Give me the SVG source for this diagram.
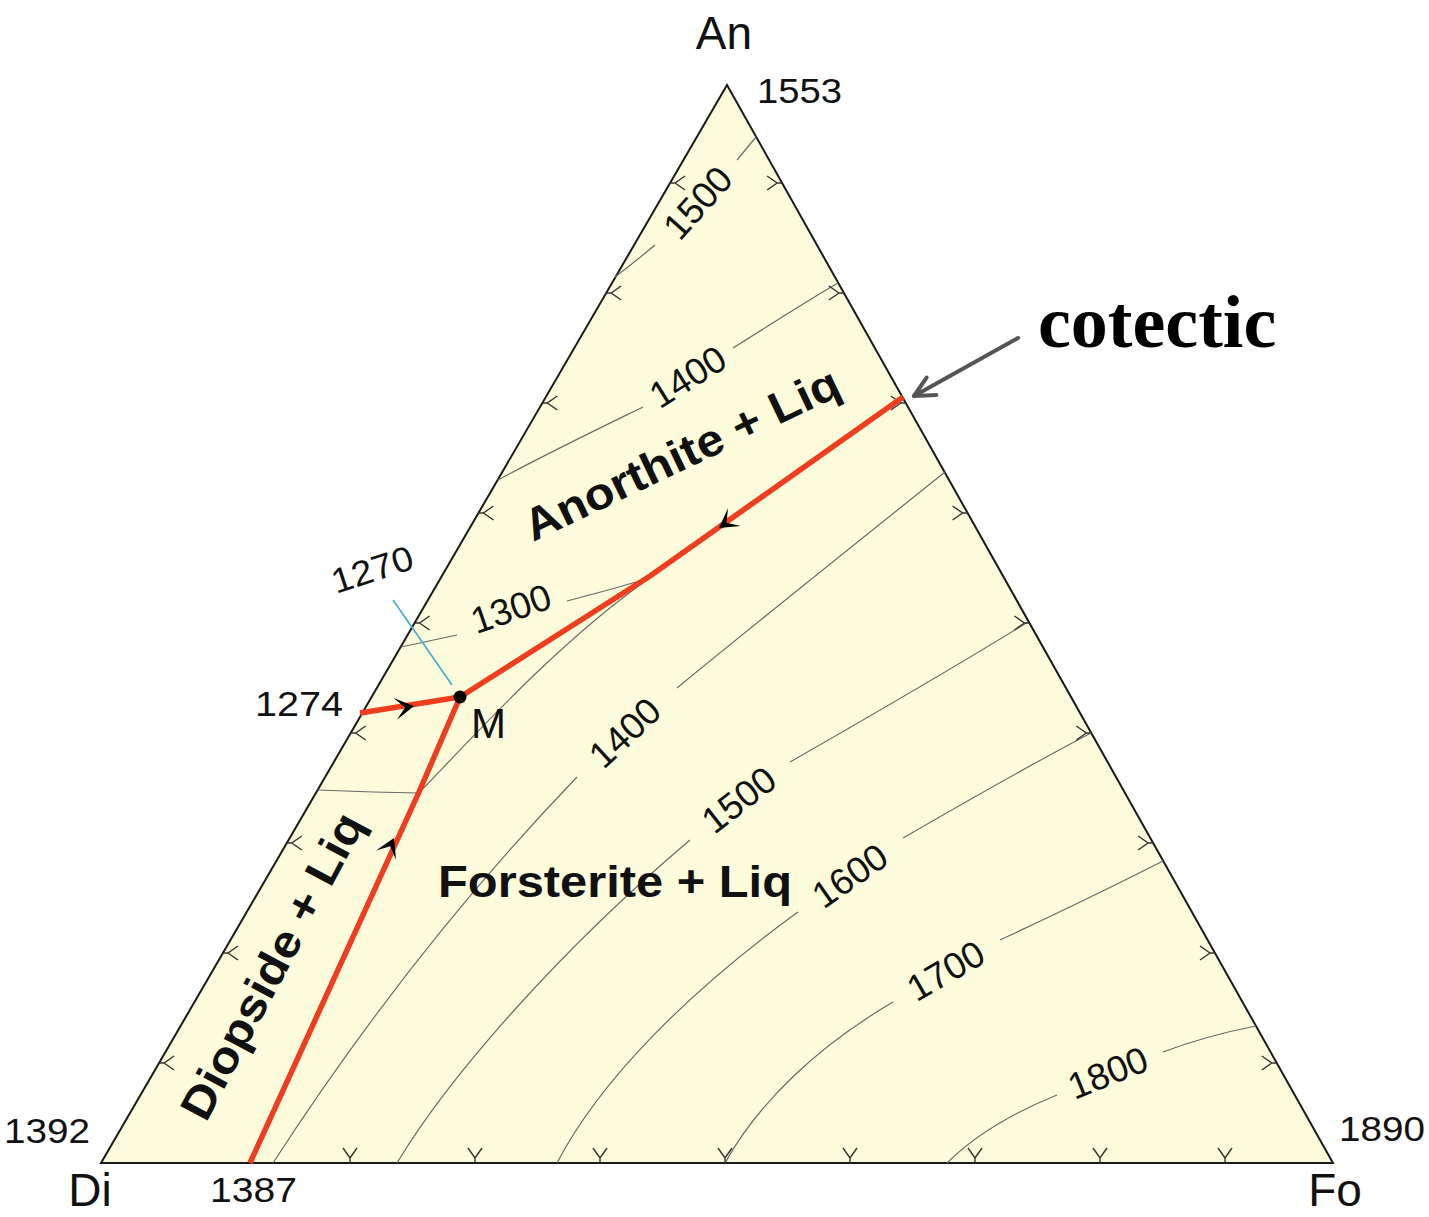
<svg xmlns="http://www.w3.org/2000/svg" xmlns:xlink="http://www.w3.org/1999/xlink" width="1429" height="1217" viewBox="0 0 1429 1217">
<style>
.num{font-family:"Liberation Sans",Arial,Helvetica,sans-serif;font-size:35px;fill:#111}
.cl{font-family:"Liberation Sans",Arial,Helvetica,sans-serif;font-size:37px;fill:#111;text-anchor:middle;dominant-baseline:central}
.vtx{font-family:"Liberation Sans",Arial,Helvetica,sans-serif;font-size:46px;fill:#111;text-anchor:middle}
.reg{font-family:"Liberation Sans",Arial,Helvetica,sans-serif;font-size:45px;font-weight:bold;fill:#111}
.cot{font-family:"Liberation Serif","Times New Roman",serif;font-size:74px;font-weight:bold;fill:#000}
.contour{fill:none;stroke:#6a6a6a;stroke-width:1.2}
.tick{fill:none;stroke:#333;stroke-width:1.4}
.red{fill:none;stroke:#ee3d1f;stroke-width:5.5;stroke-linejoin:round}
</style>
<defs>
<path id="tk" d="M0,0 L-5,0 M-15,-7 L-5,0 L-15,7"/>
<path id="ah" d="M0,0 L-19,-11 L-9,0 L-19,11 Z" fill="#000"/>
<marker id="openArrow" markerUnits="userSpaceOnUse" viewBox="-24 -14 28 28" refX="0" refY="0" markerWidth="28" markerHeight="28" orient="auto">
<path d="M-20,-10 L0,0 L-20,10" fill="none" stroke="#555" stroke-width="4" stroke-linecap="round" stroke-linejoin="round"/>
</marker>
</defs>
<rect width="1429" height="1217" fill="#ffffff"/>
<g id="triangle">
<polygon points="727,85 101,1163 1333,1163" fill="#fcfcdc" stroke="#1a1a1a" stroke-width="2"/>
</g>
<g id="contours">
<path class="contour" d="M615,277 Q636,261 655,245"/>
<path class="contour" d="M737,160 L756,137"/>
<path class="contour" d="M498,480 C550,452 600,428 643,407"/>
<path class="contour" d="M733,348 C770,325 805,302 838,283"/>
<path class="contour" d="M401,647 L457,635"/>
<path class="contour" d="M567,601 Q610,590 650,578"/>
<path class="contour" d="M318,790 L373,792 L419,793"/>
<path class="contour" d="M419,793 C470,740 560,640 650,578"/>
<path class="contour" d="M273,1163 C330,1075 430,930 577,777"/>
<path class="contour" d="M677,688 C740,636 850,548 945,472"/>
<path class="contour" d="M397,1163 C450,1075 560,950 690,840"/>
<path class="contour" d="M790,762 C860,722 950,670 1028,622"/>
<path class="contour" d="M557,1163 C600,1080 690,990 798,912"/>
<path class="contour" d="M903,838 C960,805 1030,765 1091,733"/>
<path class="contour" d="M725,1163 C760,1100 820,1045 893,1002"/>
<path class="contour" d="M1000,940 C1060,912 1110,888 1163,861"/>
<path class="contour" d="M947,1163 C975,1135 1015,1112 1057,1095"/>
<path class="contour" d="M1163,1052 C1195,1040 1225,1032 1256,1026"/>
</g>
<g id="ticks" class="tick">
<use xlink:href="#tk" transform="translate(670.1,183) rotate(180)"/>
<use xlink:href="#tk" transform="translate(606.2,293) rotate(180)"/>
<use xlink:href="#tk" transform="translate(542.3,403) rotate(180)"/>
<use xlink:href="#tk" transform="translate(478.5,513) rotate(180)"/>
<use xlink:href="#tk" transform="translate(414.6,623) rotate(180)"/>
<use xlink:href="#tk" transform="translate(350.7,733) rotate(180)"/>
<use xlink:href="#tk" transform="translate(286.8,843) rotate(180)"/>
<use xlink:href="#tk" transform="translate(223,953) rotate(180)"/>
<use xlink:href="#tk" transform="translate(159.1,1063) rotate(180)"/>
<use xlink:href="#tk" transform="translate(782.1,183)"/>
<use xlink:href="#tk" transform="translate(843.9,293)"/>
<use xlink:href="#tk" transform="translate(905.8,403)"/>
<use xlink:href="#tk" transform="translate(967.6,513)"/>
<use xlink:href="#tk" transform="translate(1029.4,623)"/>
<use xlink:href="#tk" transform="translate(1091.3,733)"/>
<use xlink:href="#tk" transform="translate(1153.1,843)"/>
<use xlink:href="#tk" transform="translate(1215,953)"/>
<use xlink:href="#tk" transform="translate(1276.8,1063)"/>
<use xlink:href="#tk" transform="translate(350,1163) rotate(90)"/>
<use xlink:href="#tk" transform="translate(475,1163) rotate(90)"/>
<use xlink:href="#tk" transform="translate(600,1163) rotate(90)"/>
<use xlink:href="#tk" transform="translate(725,1163) rotate(90)"/>
<use xlink:href="#tk" transform="translate(850,1163) rotate(90)"/>
<use xlink:href="#tk" transform="translate(975,1163) rotate(90)"/>
<use xlink:href="#tk" transform="translate(1100,1163) rotate(90)"/>
<use xlink:href="#tk" transform="translate(1225,1163) rotate(90)"/>
</g>
<g id="connectors">
<line x1="393" y1="600" x2="452" y2="685" stroke="#3fb0cc" stroke-width="1.6"/>
<path id="cotectic-an-fo" class="red" d="M903,397 L650,576 L460,697"/>
<path id="cotectic-di-an" class="red" d="M360,713 L460,697"/>
<path id="cotectic-di-fo" class="red" d="M460,697 L419,792 L250,1163"/>
<use xlink:href="#ah" transform="translate(719,528) rotate(144.6)"/>
<use xlink:href="#ah" transform="translate(414,706) rotate(-8.9)"/>
<use xlink:href="#ah" transform="translate(394,838) rotate(-65.1)"/>
<line id="cotectic-pointer" x1="1018" y1="338" x2="914" y2="396" stroke="#555" stroke-width="4" stroke-linecap="round" marker-end="url(#openArrow)"/>
</g>
<g id="point-M">
<circle cx="460" cy="697" r="6.5" fill="#000"/>
<text class="num" x="471" y="738" style="font-size:42px">M</text>
</g>
<g id="vertex-labels">
<text class="vtx" x="724" y="49">An</text>
<text class="vtx" x="90" y="1206">Di</text>
<text class="vtx" x="1335" y="1206">Fo</text>
</g>
<g id="temperature-labels">
<text class="num" x="757" y="103" textLength="85" lengthAdjust="spacingAndGlyphs">1553</text>
<text class="num" x="4" y="1143" textLength="86" lengthAdjust="spacingAndGlyphs">1392</text>
<text class="num" x="1339" y="1141" textLength="86" lengthAdjust="spacingAndGlyphs">1890</text>
<text class="num" x="210" y="1202" textLength="87" lengthAdjust="spacingAndGlyphs">1387</text>
<text class="num" x="255" y="716" textLength="88" lengthAdjust="spacingAndGlyphs">1274</text>
<text class="num" transform="translate(376,581) rotate(-18)" text-anchor="middle" textLength="84" lengthAdjust="spacingAndGlyphs">1270</text>
</g>
<g id="contour-labels">
<text class="cl" transform="translate(698,203) rotate(-48)">1500</text>
<text class="cl" transform="translate(688,377) rotate(-32)">1400</text>
<text class="cl" transform="translate(511,609) rotate(-19)">1300</text>
<text class="cl" transform="translate(625,733) rotate(-43)">1400</text>
<text class="cl" transform="translate(739,800) rotate(-38)">1500</text>
<text class="cl" transform="translate(850,876) rotate(-35)">1600</text>
<text class="cl" transform="translate(946,971) rotate(-30)">1700</text>
<text class="cl" transform="translate(1108,1073) rotate(-22)">1800</text>
</g>
<g id="region-labels">
<text class="reg" transform="translate(533,542) rotate(-25.5)" textLength="344" lengthAdjust="spacingAndGlyphs">Anorthite + Liq</text>
<text class="reg" x="438" y="897" textLength="354" lengthAdjust="spacingAndGlyphs">Forsterite + Liq</text>
<text class="reg" transform="translate(272,966) rotate(-62)" text-anchor="middle" dominant-baseline="central" textLength="340" lengthAdjust="spacingAndGlyphs">Diopside + Liq</text>
</g>
<g id="annotation">
<text class="cot" x="1038" y="347">cotectic</text>
</g>
</svg>
